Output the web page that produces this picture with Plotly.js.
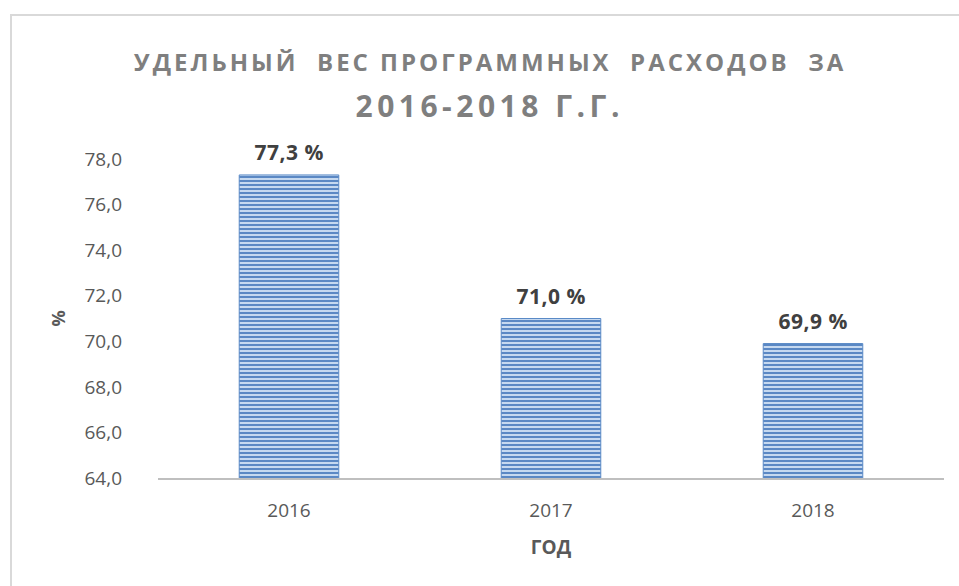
<!DOCTYPE html>
<html>
<head>
<meta charset="utf-8">
<script src="https://cdn.plot.ly/plotly-3.0.1.min.js"></script>
<style>
  html, body { margin: 0; padding: 0; background: #ffffff; }
  #frame { position: absolute; left: 10px; top: 14px; width: 960px; height: 580px;
           border-left: 2px solid #d9d9d9; border-top: 2px solid #d9d9d9; }
  #chart { position: absolute; left: 0; top: 0; width: 959px; height: 586px; }
  .gtitle { letter-spacing: 3px; }
  .annotation text { letter-spacing: 0.5px; }
  .annotation[data-index="0"] text { letter-spacing: 4.5px; }
</style>
</head>
<body>
<div id="frame"></div>
<div id="chart"></div>
<script>
const years = ['2016', '2017', '2018'];
const shares = [77.3, 71.0, 69.9];
const yTicks = [64, 66, 68, 70, 72, 74, 76, 78];
const titleLine1 = 'УДЕЛЬНЫЙ  ВЕС ПРОГРАММНЫХ  РАСХОДОВ  ЗА';
const titleLine2 = '2016-2018 Г.Г.';
const xTitle = 'ГОД';
const yTitle = '%';

const fontFam = '"Open Sans", "Noto Sans", sans-serif';

const trace = {
  type: 'bar',
  x: years,
  y: shares,
  width: 0.38,
  marker: {
    color: '#c6d9f0',
    line: { color: '#5a8ac6', width: 1 },
    pattern: { shape: '-', fgcolor: '#4f7fbf', bgcolor: '#c6d9f0', size: 4, solidity: 0.45 }
  },
  hoverinfo: 'skip'
};

const annotations = [{
  xref: 'paper', yref: 'paper', x: 0.422, y: 1, yshift: 54,
  xanchor: 'center', yanchor: 'middle', showarrow: false,
  text: titleLine2,
  font: { family: fontFam, size: 30, color: '#7f7f7f', weight: 'bold' }
}].concat(years.map((yr, i) => ({
  x: i, y: shares[i], xref: 'x', yref: 'y',
  text: shares[i].toFixed(1).replace('.', ',') + ' %',
  showarrow: false, yanchor: 'bottom', yshift: 7,
  font: { family: fontFam, size: 21, color: '#404040', weight: 'bold' }
})));

const layout = {
  width: 959, height: 586,
  paper_bgcolor: 'rgba(0,0,0,0)',
  plot_bgcolor: 'rgba(0,0,0,0)',
  margin: { l: 158, r: 15, t: 159, b: 108 },
  separators: ', ',
  showlegend: false,
  title: {
    text: titleLine1,
    x: 0.511, xanchor: 'center', y: 0.894, yanchor: 'middle',
    font: { family: fontFam, size: 24, color: '#7f7f7f', weight: 'bold' }
  },
  xaxis: {
    type: 'category',
    range: [-0.5, 2.5],
    showline: true, linecolor: '#bfbfbf', linewidth: 2,
    ticks: '', showgrid: false, zeroline: false,
    ticklabelstandoff: 14,
    tickfont: { family: fontFam, size: 19, color: '#595959' },
    title: { text: xTitle, standoff: 19, font: { family: fontFam, size: 19, color: '#595959', weight: 'bold' } }
  },
  yaxis: {
    range: [64, 78],
    tickvals: yTicks,
    tickformat: '.1f',
    showline: false, showgrid: false, zeroline: false, ticks: '',
    ticklabelstandoff: 35,
    tickfont: { family: fontFam, size: 19, color: '#595959' },
    title: { text: yTitle, standoff: 14, font: { family: fontFam, size: 18, color: '#595959', weight: 'bold' } }
  },
  annotations: annotations
};

Plotly.newPlot('chart', [trace], layout, { displayModeBar: false, staticPlot: true });
</script>
</body>
</html>
